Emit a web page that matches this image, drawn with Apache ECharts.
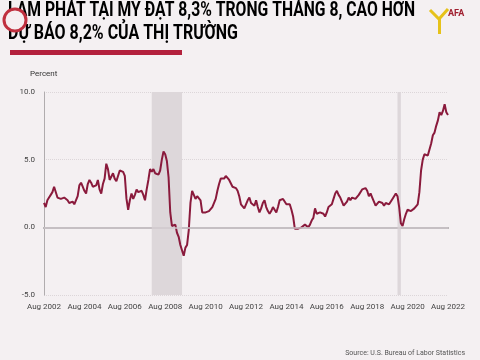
<!DOCTYPE html>
<html><head><meta charset="utf-8">
<script src="https://cdn.jsdelivr.net/npm/echarts@6/dist/echarts.min.js"></script>
<style>html,body{margin:0;padding:0;background:#f4f0f2}#c{width:480px;height:360px}</style>
</head><body><div id="c"></div>
<script>
const startYear = 2002, startMonth = 7; // Aug 2002 (0-based month)
const monthNames = ['Jan','Feb','Mar','Apr','May','Jun','Jul','Aug','Sep','Oct','Nov','Dec'];
const cpiYoY = [
 1.8,1.5,2.0,2.2,2.4,
 2.6,3.0,3.0,2.2,2.1,2.1,2.1,2.2,2.3,2.0,1.8,1.9,
 1.9,1.7,1.7,2.3,3.1,3.3,3.0,2.7,2.5,3.2,3.5,3.3,
 3.0,3.0,3.1,3.5,2.8,2.5,3.2,3.6,4.7,4.3,3.5,3.4,
 4.0,3.6,3.4,3.5,4.2,4.3,4.1,3.8,2.1,1.3,2.0,2.5,
 2.1,2.4,2.8,2.6,2.7,2.7,2.4,2.0,2.8,3.5,4.3,4.1,
 4.3,4.0,4.0,3.9,4.2,5.0,5.6,5.4,4.9,3.7,1.1,0.1,
 0.0,0.2,-0.4,-0.7,-1.3,-1.4,-2.1,-1.5,-1.3,-0.2,1.8,2.7,
 2.6,2.1,2.3,2.2,2.0,1.1,1.2,1.1,1.1,1.2,1.1,1.5,
 1.6,2.1,2.7,3.2,3.6,3.6,3.6,3.8,3.9,3.5,3.4,3.0,
 2.9,2.9,2.7,2.3,1.7,1.7,1.4,1.7,2.0,2.2,1.8,1.7,
 1.6,2.0,1.5,1.1,1.4,1.8,2.0,1.5,1.2,1.0,1.2,1.5,
 1.6,1.1,1.5,2.0,2.1,2.1,2.0,1.7,1.7,1.7,1.3,0.8,
 -0.1,0.0,-0.1,-0.2,0.0,0.1,0.2,0.2,0.0,0.2,0.5,0.7,
 1.4,1.0,0.9,1.1,1.0,1.0,0.8,1.1,1.5,1.6,1.7,2.1,
 2.5,2.7,2.4,2.2,1.9,1.6,1.7,1.9,2.2,2.0,2.2,2.1,
 2.1,2.2,2.4,2.5,2.8,2.9,2.9,2.7,2.3,2.5,2.2,1.9,
 1.6,1.5,1.9,2.0,1.8,1.6,1.8,1.7,1.7,1.8,2.1,2.3,
 2.5,2.3,1.5,0.3,0.1,0.6,1.0,1.3,1.4,1.2,1.2,1.4,
 1.4,1.7,2.6,4.2,5.0,5.4,5.4,5.3,5.4,6.2,6.8,7.0,
 7.5,7.9,8.5,8.3,8.6,9.1,8.5,8.3
];
const months = cpiYoY.map((v,i)=>{const m=(startMonth+i)%12;const y=startYear+Math.floor((startMonth+i)/12);return monthNames[m]+' '+y;});
const recessions = [['Dec 2007','Jun 2009'],['Feb 2020','Apr 2020']];
const titleLine1 = [['LẠM PHÁT TẠI MỸ ','k'],['ĐẠT 8,3%','r'],[' TRONG THÁNG 8, ','k'],['CAO HƠN','r']];
const titleLine2 = [['DỰ BÁO 8,2%','r'],[' CỦA THỊ TRƯỜNG','k']];
const sourceText = 'Source: U.S. Bureau of Labor Statistics';

const chart = echarts.init(document.getElementById('c'), null, {renderer:'canvas'});
const fam = 'Roboto,sans-serif';
const tSize = 20;
const rich = {k:{color:'#1a1a1a',fontWeight:'bold',fontSize:tSize,fontFamily:fam},r:{color:'#b3213d',fontWeight:'bold',fontSize:tSize,fontFamily:fam}};
const toRich = parts => parts.map(p=>'{'+p[1]+'|'+p[0]+'}').join('');
const ctx = document.createElement('canvas').getContext('2d');
ctx.font = 'bold '+tSize+'px '+fam;
const w1 = titleLine1.reduce((s,p)=>s+ctx.measureText(p[0]).width,0);
const w2 = titleLine2.reduce((s,p)=>s+ctx.measureText(p[0]).width,0);
const sx1 = 407/w1, sx2 = 230/w2;
chart.setOption({
  backgroundColor:'#f4f0f2',
  animation:false,
  grid:{left:44,right:32,top:92,bottom:65},
  xAxis:{type:'category',data:months,boundaryGap:false,
    axisLine:{lineStyle:{color:'#a8a4a6',width:2}},
    axisTick:{show:false},
    axisLabel:{interval:23,color:'#444',fontSize:8,fontFamily:fam,margin:8,showMaxLabel:true},
    splitLine:{show:false}},
  yAxis:{type:'value',min:-5,max:10,interval:5,
    axisLine:{show:true,lineStyle:{color:'#b0acae',width:1}},
    axisTick:{show:false},
    axisLabel:{formatter:v=>v.toFixed(1),color:'#444',fontSize:8,fontFamily:fam,margin:9},
    splitLine:{show:true,lineStyle:{color:'#dcd6d9',type:'dotted',width:1}}},
  graphic:[
    {type:'text',x:8,y:1,scaleX:sx1,style:{text:toRich(titleLine1),rich:rich}},
    {type:'text',x:8,y:24,scaleX:sx2,style:{text:toRich(titleLine2),rich:rich}},
    {type:'rect',shape:{x:10,y:50,width:172,height:5},style:{fill:'#b3213d'}},
    {type:'text',left:30,top:70,style:{text:'Percent',fill:'#333',fontSize:8,fontFamily:fam}},
    {type:'text',right:15,top:350,style:{text:sourceText,fill:'#555',fontSize:7,fontFamily:fam}},
    {type:'circle',shape:{cx:15,cy:20,r:11},style:{fill:'#f6eef0',stroke:'#c0303f',lineWidth:3}},
    {type:'text',left:448,top:9,style:{text:'AFA',fill:'#a02030',fontSize:9,fontWeight:'bold',fontFamily:fam}},
    {type:'rect',shape:{x:438,y:18,width:3,height:16},style:{fill:'#e6c21a'}},
    {type:'polyline',shape:{points:[[430,10],[439,19],[448,9]]},style:{stroke:'#e6c21a',lineWidth:3,fill:null}}
  ],
  series:[{type:'line',data:cpiYoY,showSymbol:false,smooth:false,
    lineStyle:{color:'#8a1a3c',width:2},
    markArea:{silent:true,itemStyle:{color:'#ddd7da'},data:recessions.map(r=>[{xAxis:r[0]},{xAxis:r[1]}])},
    markLine:{silent:true,symbol:'none',label:{show:false},lineStyle:{color:'#cfc9cc',type:'solid',width:1.5},data:[{yAxis:0}]}
  }]
});
</script></body></html>
